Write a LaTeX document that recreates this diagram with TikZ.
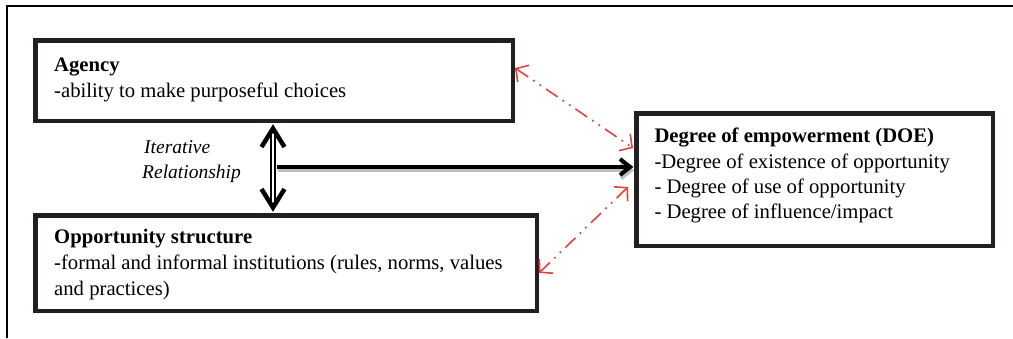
\documentclass[tikz,border=0pt]{standalone}
\usepackage{fontspec}
\setmainfont{Liberation Serif}
\usetikzlibrary{calc,arrows.meta}
\definecolor{boxline}{HTML}{231F20}
\definecolor{linkred}{RGB}{222,66,66}
\begin{document}
\begin{tikzpicture}[x=1pt,y=-1pt,
  box/.style={draw=boxline, line width=4.5pt, rectangle, inner sep=0pt},
  txt/.style={anchor=base west, inner sep=0pt, font=\fontsize{20.7}{26}\selectfont},
  head/.style={txt, font=\fontsize{20.7}{26}\selectfont\bfseries},
  itl/.style={txt, font=\fontsize{19.5}{25}\selectfont\itshape},
  chevron/.style={draw=black, line width=4.5pt, line join=miter},
  link/.style={draw=linkred, line width=1.6pt,
    dash pattern=on 14pt off 6pt on 1.8pt off 6pt on 1.8pt off 6pt,
    {Straight Barb[length=9pt,width=20pt]}-{Straight Barb[length=9pt,width=20pt]}},
]
\useasboundingbox (0,0) rectangle (1013,338);

% outer frame
\draw[line width=2pt] (7,338) -- (7,6) -- (1013,6);

% boxes
\node[box, minimum width=477.5pt, minimum height=80.5pt] (agency) at (274,80.5) {};
\node[box, minimum width=501.5pt, minimum height=95.5pt] (opp) at (286,263) {};
\node[box, minimum width=356.5pt, minimum height=132.5pt] (doe) at (814.5,179.5) {};

% box texts
\node[head] (agT) at (54,71.7) {Agency};
\node[txt] (agD) at (54,97.7) {-ability to make purposeful choices};
\node[head] (opT) at (54,243) {Opportunity structure};
\node[txt] (opD1) at (54,269) {-formal and informal institutions (rules, norms, values};
\node[txt] (opD2) at (54,295) {and practices)};
\node[head] (doeT) at (654.3,142.7) {Degree of empowerment (DOE)};
\node[txt] (doe1) at (654.3,168.3) {-Degree of existence of opportunity};
\node[txt] (doe2) at (654.3,193) {- Degree of use of opportunity};
\node[txt] (doe3) at (654.3,218.3) {- Degree of influence/impact};
\node[itl] (it1) at (144,153.3) {Iterative};
\node[itl] (it2) at (142,178.3) {Relationship};

% iterative double arrow between agency and opportunity structure
\coordinate (vt) at ([xshift=-1pt]agency.south);
\coordinate (vb) at (vt |- opp.north);
\draw[draw=black, line width=1.5pt, double=white, double distance=2.2pt]
  ($(vt)+(0,6)$) -- ($(vb)+(0,-6)$);
\draw[chevron] ($(vt)+(-11.5,24)$) -- ($(vt)+(0,5.5)$) -- ($(vt)+(11.5,24)$);
\draw[chevron] ($(vb)+(-11.5,-24)$) -- ($(vb)+(0,-5.5)$) -- ($(vb)+(11.5,-24)$);

% main arrow to degree of empowerment, with its shadow
\coordinate (hs) at ($(vt)!.5!(vb)+(4,-1)$);
\coordinate (he) at (doe.west |- hs);
\draw[gray!50, line width=3.5pt] ($(hs)+(1,3.5)$) -- ($(he)+(-4,3.5)$);
\draw[gray!50, line width=3.5pt, line join=miter]
  ($(he)+(-13,-4.5)$) -- ($(he)+(-2.8,3.5)$) -- ($(he)+(-13,11.5)$);
\draw[line width=4.2pt] (hs) -- ($(he)+(-4,0)$);
\draw[chevron, line width=4pt] ($(he)+(-14,-8)$) -- ($(he)+(-3.8,0)$) -- ($(he)+(-14,8)$);

% feedback links
\coordinate (r1a) at ($(agency.east)+(0,-12.5)$);
\coordinate (r1b) at ($(doe.west)+(-1,-31.5)$);
\coordinate (r2a) at ($(doe.west)+(-6,7.5)$);
\coordinate (r2b) at ($(opp.east)+(0,10)$);
\draw[link] (r1a) -- (r1b);
\draw[link] (r2a) -- (r2b);
\end{tikzpicture}
\end{document}
